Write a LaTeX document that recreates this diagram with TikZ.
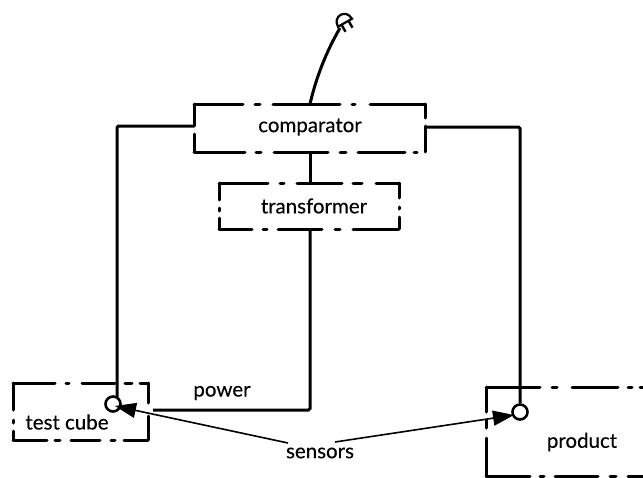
\documentclass[tikz,border=0pt]{standalone}
\usepackage{fontspec}
\setmainfont{Lato}[FakeBold=0.25]
\usetikzlibrary{arrows.meta}
\tikzset{
 framebox/.style={inner sep=0pt},
 boxline/.style={draw=black,line width=3pt,line cap=round},
 txt/.style={inner sep=0pt,font=\fontsize{20.5}{24}\selectfont,text=black},
 wire/.style={draw=black,line width=3pt,rounded corners=1.5pt},
 sensor/.style={draw=black,line width=2.6pt,circle,fill=white,minimum size=15pt,inner sep=0pt},
 pointer/.style={draw=black,line width=1.6pt,-{Triangle[length=21pt,width=15pt]}}
}
\begin{document}
\begin{tikzpicture}[x=1pt,y=-1pt]
\useasboundingbox (0,0) rectangle (643,477);
\clip (0,0) rectangle (643,477);
% invisible frames carrying the names
\node[framebox,minimum width=231pt,minimum height=48pt,anchor=north west] (comparatorbox) at (194,104) {};
\node[framebox,minimum width=180pt,minimum height=46pt,anchor=north west] (transformerbox) at (219,183) {};
\node[framebox,minimum width=135pt,minimum height=57pt,anchor=north west] (cubebox) at (13,383) {};
\node[framebox,minimum width=230pt,minimum height=89pt,anchor=north west] (productbox) at (486,387) {};
% dash-dot outlines
\draw[boxline] (194,104)--(243,104) (255,104)--(260,104) (273,104)--(340,104) (352,104)--(355,104) (370,104)--(425,104)
 (425,104)--(425,118) (425,126)--(425,152)
 (194,152)--(245,152) (256,152)--(261,152) (274,152)--(328,152) (340,152)--(346,152) (358,152)--(405,152) (414,152)--(417,152)
 (194,104)--(194,126) (194,134)--(194,152);
\draw[boxline] (219,183)--(268,183) (280,183)--(284,183) (297,183)--(342,183) (353,183)--(362,183) (376,183)--(399,183)
 (399,183)--(399,198) (399,207)--(399,209) (399,217)--(399,229)
 (219,229)--(252,229) (263,229)--(267,229) (278,229)--(322,229) (335,229)--(340,229) (353,229)--(399,229)
 (219,183)--(219,200) (219,208)--(219,211) (219,218)--(219,229);
\draw[boxline] (13,383)--(55,383) (66,383)--(69,383) (82,383)--(115,383) (125,383)--(132,383) (140,383)--(148,383)
 (148,383)--(148,403) (148,416)--(148,440)
 (13,440)--(47,440) (55,440)--(60,440) (71,440)--(100,440) (111,440)--(115,440) (124,440)--(148,440)
 (13,383)--(13,410) (13,420)--(13,423) (13,431)--(13,440);
\draw[boxline] (486,387)--(540,387) (552,387)--(557,387) (572,387)--(618,387) (628,387)--(632,387) (640,387)--(650,387)
 (486,387)--(486,412) (486,420)--(486,428) (486,438)--(486,476)
 (486,476)--(530,476) (540,476)--(544,476) (555,476)--(598,476) (610,476)--(616,476) (628,476)--(650,476);
% labels
\node[txt] (comparator) at (310,127) {comparator};
\node[txt] (transformer) at (314,206) {transformer};
\node[txt] (cube) at (67,422) {test cube};
\node[txt] (product) at (582,442) {product};
\node[txt] (sensors) at (320,453) {sensors};
\node[txt] (power) at (222,393) {power};
% sensors
\node[sensor] (s1) at (113,404) {};
\node[sensor] (s2) at (520,412) {};
\coordinate (plug) at (340,28);
\coordinate (cl) at (194,126);
\coordinate (cr) at (425,127);
\coordinate (pw) at (153,410);
\coordinate (cx) at (310,128);
\coordinate (a1) at (288,443);
\coordinate (a2) at (335,442);
\coordinate (t1) at (115,406);
\coordinate (t2) at (514,415);
\draw[wire] (cl) -- (117,126) -- (117,397);
\draw[wire] (cr) -- (s2.north |- cr) -- (s2.north);
\draw[wire] (comparatorbox.south -| cx) -- (transformerbox.north -| cx);
\draw[wire] (transformerbox.south -| cx) -- (310,410) -- (pw);
\draw[draw=black,line width=3pt] (comparatorbox.north -| cx) .. controls (316,78) and (326,52) .. (plug);
\begin{scope}[shift={(344,21)},x={(0.87pt,0.5pt)},y={(0.5pt,-0.87pt)}]
 \draw[black,line width=2.2pt,fill=white] (-8,2) -- (8,2) .. controls (8,-10) and (-8,-10) .. (-8,2) -- cycle;
 \draw[black,line width=2.4pt] (-4,2) -- (-4,10) (4,2) -- (4,10);
\end{scope}
\draw[pointer] (a1) -- (t1);
\draw[pointer] (a2) -- (t2);
\end{tikzpicture}
\end{document}
